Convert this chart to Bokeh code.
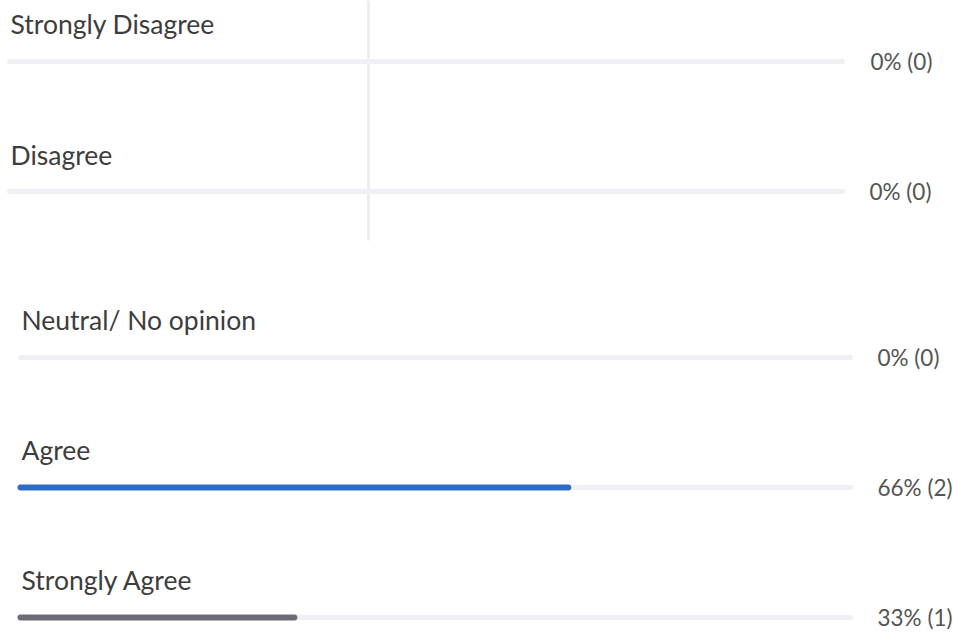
from bokeh.plotting import figure
from bokeh.models import Range1d
from bokeh.core.properties import value
from bokeh.embed import file_html
from bokeh.resources import INLINE

# ---- data ----
categories = ["Strongly Disagree", "Disagree", "Neutral/ No opinion", "Agree", "Strongly Agree"]
percents = [0, 0, 0, 66, 33]
counts = [0, 0, 0, 2, 1]
bar_colors = ["#2d6cc5", "#2d6cc5", "#2d6cc5", "#2d6cc5", "#6c6c76"]

# ---- layout (reference pixel frame) ----
W, H = 953, 632
p = figure(width=W, height=H, output_backend="svg", toolbar_location=None,
           x_range=Range1d(0, W), y_range=Range1d(H, 0),
           min_border=0, outline_line_color=None)
p.axis.visible = False
p.grid.visible = False
p.background_fill_color = "white"
p.border_fill_color = "white"

# two stacked panels (the source is a composite of two screenshots)
track_left = [9, 9, 20, 20, 20]
track_right = [842, 842, 850, 850, 850]
text_left = [10, 10, 21, 21, 21]
label_y = [23, 154, 319, 449, 579]
bar_y = [61, 191, 357, 487, 617]
pct_x = [870, 869, 877, 877, 877]

# divider line in top panel
p.segment(x0=[368], y0=[0], x1=[368], y1=[240], line_color="#ededf2", line_width=3)

# tracks
p.segment(x0=track_left, y0=bar_y, x1=track_right, y1=bar_y,
          line_color="#efeff4", line_width=5, line_cap="round")

# value bars
for i, pc in enumerate(percents):
    if pc > 0:
        x1 = track_left[i] + pc / 100 * (track_right[i] - track_left[i])
        p.segment(x0=[track_left[i]], y0=[bar_y[i]], x1=[x1], y1=[bar_y[i]],
                  line_color=bar_colors[i], line_width=6, line_cap="round")

# category labels
p.text(x=text_left, y=label_y, text=categories, text_font=value("Lato"),
       text_font_size="26.5px", text_color="#3d3d3d", text_baseline="middle")

# percentage labels
pct_labels = [f"{pc}% ({c})" for pc, c in zip(percents, counts)]
p.text(x=pct_x, y=bar_y, text=pct_labels, text_font=value("Lato"),
       text_font_size="22.5px", text_color="#555555", text_baseline="middle")

open("out.html", "w").write(file_html(p, INLINE))
